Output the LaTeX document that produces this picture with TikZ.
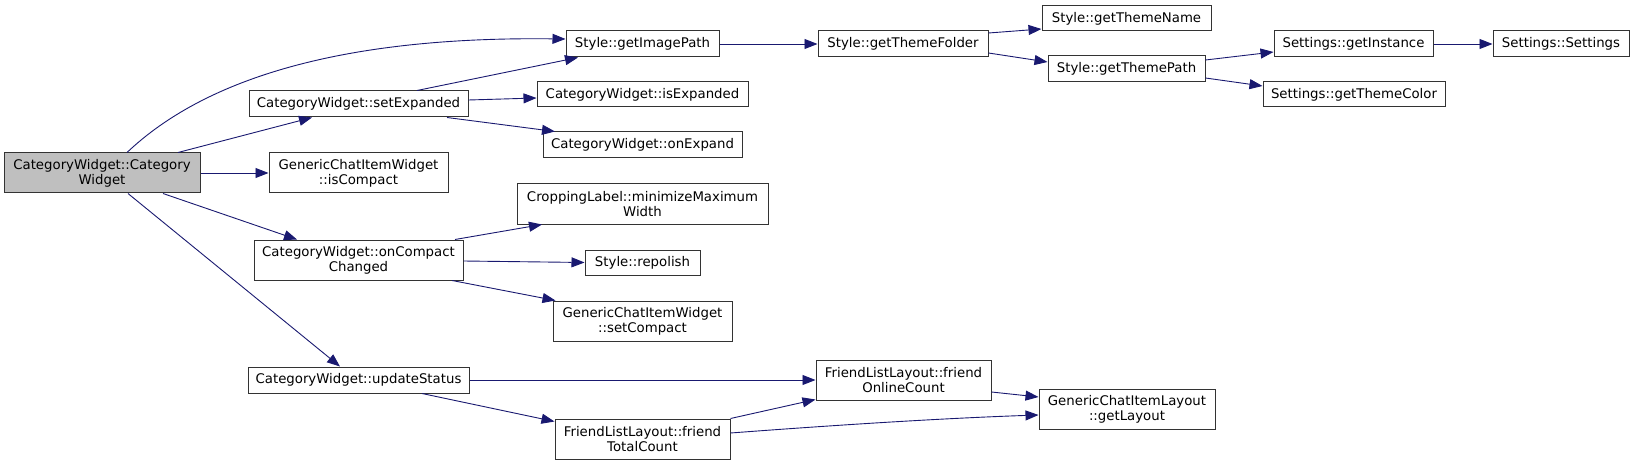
\documentclass[tikz,border=0pt]{standalone}
\usepackage{fontspec}
\setmainfont{DejaVu Sans}
\usetikzlibrary{arrows.meta,calc}
\definecolor{edgec}{HTML}{191970}
\definecolor{bordc}{HTML}{333333}
\definecolor{mainfill}{HTML}{BFBFBF}
\tikzset{
  nbox/.style={draw=bordc, line width=1pt, fill=white, inner sep=0pt, align=center,
    font=\fontsize{13.3}{15}\selectfont, text=black},
  mainbox/.style={nbox, fill=mainfill},
  call/.style={draw=edgec, line width=0.9pt, -{Triangle[length=13pt,width=10pt]}},
}
\begin{document}
\begin{tikzpicture}[x=1pt,y=-1pt]
\useasboundingbox (0,0) rectangle (1635,465);
% nodes
\node[mainbox, minimum width=196pt, minimum height=40pt] (main) at (102,173) {CategoryWidget::Category\\Widget};
\node[nbox, minimum width=153pt, minimum height=26pt] (gip) at (642.5,44) {Style::getImagePath};
\node[nbox, minimum width=219pt, minimum height=26pt] (setexp) at (358.5,104) {CategoryWidget::setExpanded};
\node[nbox, minimum width=179pt, minimum height=40pt] (iscomp) at (358.5,173) {GenericChatItemWidget\\::isCompact};
\node[nbox, minimum width=209pt, minimum height=40pt] (oncc) at (358.5,260) {CategoryWidget::onCompact\\Changed};
\node[nbox, minimum width=221pt, minimum height=26pt] (upd) at (358.5,380) {CategoryWidget::updateStatus};
\node[nbox, minimum width=170pt, minimum height=26pt] (gtf) at (903,44) {Style::getThemeFolder};
\node[nbox, minimum width=211pt, minimum height=25pt] (isexp) at (642.5,94.5) {CategoryWidget::isExpanded};
\node[nbox, minimum width=199pt, minimum height=26pt] (onexp) at (642.5,145) {CategoryWidget::onExpand};
\node[nbox, minimum width=251pt, minimum height=40pt] (crop) at (642.5,204) {CroppingLabel::minimizeMaximum\\Width};
\node[nbox, minimum width=115pt, minimum height=25pt] (rep) at (642.5,262.5) {Style::repolish};
\node[nbox, minimum width=179pt, minimum height=40pt] (setc) at (642.5,321) {GenericChatItemWidget\\::setCompact};
\node[nbox, minimum width=175pt, minimum height=40pt] (ftc) at (642.5,439) {FriendListLayout::friend\\TotalCount};
\node[nbox, minimum width=175pt, minimum height=40pt] (fon) at (903.5,380) {FriendListLayout::friend\\OnlineCount};
\node[nbox, minimum width=176pt, minimum height=40pt] (gl) at (1127,409) {GenericChatItemLayout\\::getLayout};
\node[nbox, minimum width=169pt, minimum height=25pt] (gtn) at (1126.5,18.5) {Style::getThemeName};
\node[nbox, minimum width=157pt, minimum height=26pt] (gtp) at (1126.5,69) {Style::getThemePath};
\node[nbox, minimum width=159pt, minimum height=26pt] (gin) at (1353.5,44) {Settings::getInstance};
\node[nbox, minimum width=182pt, minimum height=25pt] (gtc) at (1354,94.5) {Settings::getThemeColor};
\node[nbox, minimum width=136pt, minimum height=26pt] (sset) at (1561,44) {Settings::Settings};
% edges
\draw[call] ($(main.north)+(25,0)$) .. controls (195,88) and (320,36) .. ($(gip.west)+(0,-5)$);
\draw[call] ($(main.north)+(76,0)$) -- ($(setexp.south)+(-46.5,0)$);
\draw[call] (main.east) -- (iscomp.west);
\draw[call] ($(main.south)+(61,0)$) -- ($(oncc.north)+(-61.5,0)$);
\draw[call] ($(main.south)+(26,0)$) -- ($(upd.north)+(-18.5,0)$);
\draw[call] ($(setexp.north)+(58.5,0)$) -- ($(gip.south)+(-64.5,0)$);
\draw[call] ($(setexp.east)+(0,-4)$) -- ($(isexp.west)+(0,3.5)$);
\draw[call] ($(setexp.south)+(88.5,0)$) -- ($(onexp.north)+(-87.5,0)$);
\draw[call] (gip.east) -- (gtf.west);
\draw[call] ($(gtf.east)+(0,-11)$) -- ($(gtn.west)+(0,10.5)$);
\draw[call] ($(gtf.east)+(0,9)$) -- ($(gtp.west)+(0,-7)$);
\draw[call] ($(gtp.east)+(0,-9)$) -- ($(gin.west)+(0,8)$);
\draw[call] ($(gtp.east)+(0,9)$) -- ($(gtc.west)+(0,-8.5)$);
\draw[call] (gin.east) -- (sset.west);
\draw[call] ($(oncc.north)+(96.5,0)$) -- ($(crop.south)+(-100.5,0)$);
\draw[call] ($(oncc.east)+(0,1)$) -- (rep.west);
\draw[call] ($(oncc.south)+(93.5,0)$) -- ($(setc.north west)+(3,0)$);
\draw[call] (upd.east) -- (fon.west);
\draw[call] ($(upd.south)+(63.5,0)$) -- ($(ftc.north west)+(0,3)$);
\draw[call] (ftc.north east) -- ($(fon.south west)+(0,-1)$);
\draw[call] ($(ftc.east)+(0,-6)$) .. controls (850,424) and (950,418) .. ($(gl.west)+(0,6)$);
\draw[call] ($(fon.east)+(0,12)$) -- ($(gl.west)+(0,-12)$);
\end{tikzpicture}
\end{document}
